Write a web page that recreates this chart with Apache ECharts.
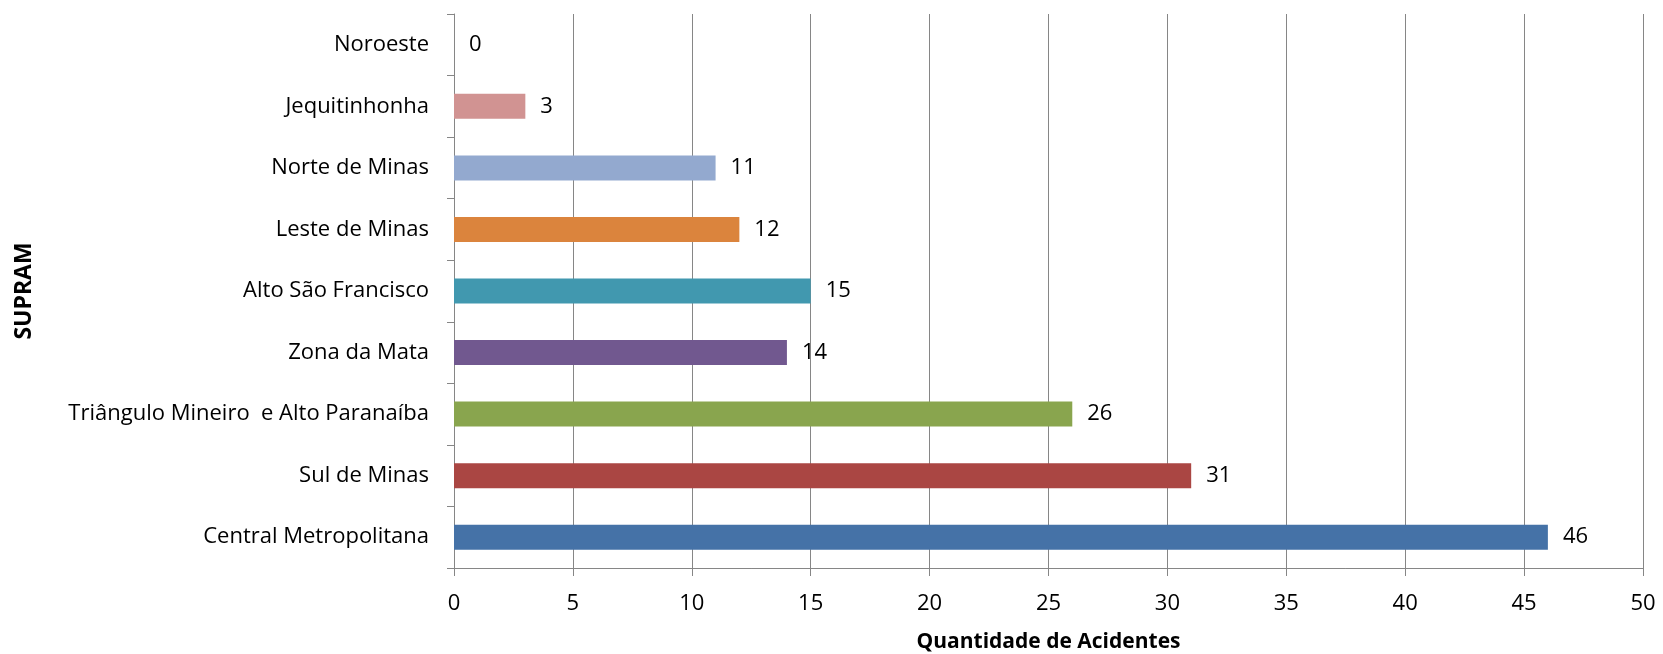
<!DOCTYPE html>
<html>
<head>
<meta charset="utf-8">
<script src="https://cdn.jsdelivr.net/npm/echarts@6/dist/echarts.min.js"></script>
<style>
  html, body { margin: 0; padding: 0; background: #fff; }
  #chart { width: 1663px; height: 654px; }
</style>
</head>
<body>
<div id="chart"></div>
<script>
// categories bottom -> top
const regions = [
  'Central Metropolitana',
  'Sul de Minas',
  'Triângulo Mineiro  e Alto Paranaíba',
  'Zona da Mata',
  'Alto São Francisco',
  'Leste de Minas',
  'Norte de Minas',
  'Jequitinhonha',
  'Noroeste'
]
const accidents = [46, 31, 26, 14, 15, 12, 11, 3, 0]
const barColors = ['#4572A7', '#AA4643', '#89A54E', '#71588F', '#4198AF', '#DB843D', '#93A9CF', '#D19392', '#B9CD96']
const xTicks = [0, 5, 10, 15, 20, 25, 30, 35, 40, 45, 50]

const chart = echarts.init(document.getElementById('chart'))

const font = '"Open Sans", sans-serif'

chart.setOption({
  animation: false,
  // posição fixa da área do gráfico, sem ajuste automático pelos rótulos
  grid: { left: 454, right: 20, top: 14, bottom: 86, outerBoundsMode: 'none' },
  xAxis: {
    type: 'value',
    min: xTicks[0],
    max: xTicks[xTicks.length - 1],
    interval: 5,
    name: 'Quantidade de Acidentes',
    nameLocation: 'middle',
    nameGap: 64,
    nameTextStyle: { fontFamily: font, fontSize: 21, fontWeight: 'bold', color: '#000' },
    axisLine: { show: true, lineStyle: { color: '#868686', width: 1 } },
    axisTick: { show: true, length: 8, lineStyle: { color: '#868686' } },
    axisLabel: { fontFamily: font, fontSize: 22, color: '#000', margin: 25 },
    splitLine: { show: true, lineStyle: { color: '#868686', width: 1 } }
  },
  yAxis: {
    type: 'category',
    data: regions,
    name: 'SUPRAM',
    nameLocation: 'middle',
    nameRotate: 90,
    nameGap: 418,
    nameTextStyle: { fontFamily: font, fontSize: 23, fontWeight: 'bold', color: '#000' },
    axisLine: { show: true, lineStyle: { color: '#868686', width: 1 } },
    axisTick: { show: true, length: 7, lineStyle: { color: '#868686' } },
    axisLabel: { fontFamily: font, fontSize: 22, color: '#000', margin: 25 },
    splitLine: { show: false }
  },
  series: [{
    type: 'bar',
    data: accidents.map((v, i) => ({ value: v, itemStyle: { color: barColors[i] } })),
    barWidth: 25,
    label: {
      show: true,
      position: 'right',
      distance: 15,
      fontFamily: font,
      fontSize: 22,
      color: '#000'
    }
  }]
})
</script>
</body>
</html>
